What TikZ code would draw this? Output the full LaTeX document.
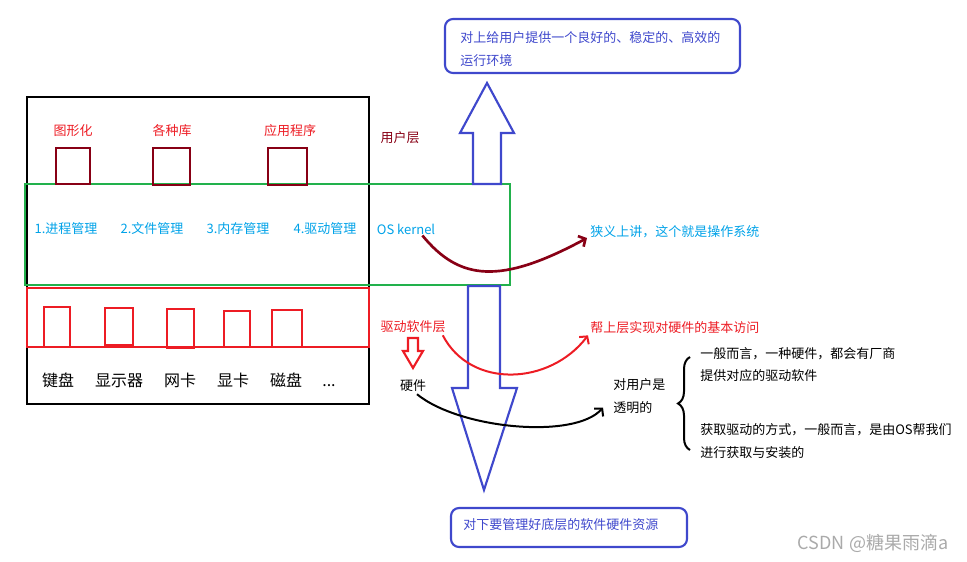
\documentclass[tikz,border=0pt]{standalone}
\usepackage{fontspec}
\setmainfont{Noto Sans CJK SC}
\usetikzlibrary{arrows.meta,calc,decorations.pathreplacing}

\definecolor{osgreen}{RGB}{34,177,76}
\definecolor{osred}{RGB}{237,28,36}
\definecolor{osdarkred}{RGB}{136,0,21}
\definecolor{osblue}{RGB}{63,72,204}
\definecolor{oscyan}{RGB}{0,162,232}
\definecolor{wmgray}{RGB}{170,170,170}

\begin{document}
\begin{tikzpicture}[x=0.75pt,y=-0.75pt,
    txt/.style={inner sep=0pt,font=\fontsize{9.75}{17.25}\selectfont,align=left},
    hw/.style={inner sep=0pt,anchor=base,font=\fontsize{12}{14}\selectfont},
    bubble/.style={draw=osblue,line width=1.6pt,rounded corners=6pt,inner sep=0pt},
    bigarrow/.style={draw=osblue,line width=1.6pt,line join=miter},
    barb/.style={-{Straight Barb[length=4pt,width=9pt]}}]
    \useasboundingbox (0,0) rectangle (967,561);

    % layers
    \draw[line width=2pt] (27,97) rectangle (369,404);
    \draw[osred,line width=1.5pt] (27,288) rectangle (369,347);
    \draw[osgreen,line width=1.6pt] (25,184) rectangle (510,285);

    % user programs
    \foreach \a/\b/\c/\d in {56/148/90/184,153/148/190/185,268/148/307/185} {
      \draw[osdarkred,line width=2pt] (\a,\b) rectangle (\c,\d);
    }
    \node[txt,text=osred] (gfx) at (73,131) {图形化};
    \node[txt,text=osred] (libs) at (172,131) {各种库};
    \node[txt,text=osred] (apps) at (290,131) {应用程序};
    \node[txt,text=osdarkred] (userlayer) at (400,138) {用户层};

    % kernel
    \node[txt,text=oscyan] (proc) at (66,229) {1.进程管理};
    \node[txt,text=oscyan] (file) at (152,229) {2.文件管理};
    \node[txt,text=oscyan] (mem) at (238,229) {3.内存管理};
    \node[txt,text=oscyan] (drvmgr) at (325,229) {4.驱动管理};
    \node[txt,text=oscyan] (oskernel) at (406,229) {OS kernel};

    % drivers
    \foreach \a/\b/\c/\d in {44/307/70/347,105/308/133/345,167/309/194/348,224/311/250/347,272/310/302/347} {
      \draw[osred,line width=1.6pt] (\a,\b) rectangle (\c,\d);
    }
    \node[txt,text=osred] (drvlayer) at (413,327) {驱动软件层};
    \draw[osred,line width=1.6pt,line join=miter]
    (408,338) -- (408,351) -- (403,351) -- (413,368) -- (423,351) -- (418,351) -- (418,338) -- cycle;

    % hardware
    \node[hw] (kbd) at (58,386) {键盘};
    \node[hw] (screen) at (119,386) {显示器};
    \node[hw] (nic) at (180,386) {网卡};
    \node[hw] (gpu) at (233,386) {显卡};
    \node[hw] (disk) at (286,386) {磁盘};
    \node[hw] (more) at (329,386) {...};
    \node[txt] (hwlabel) at (413,386) {硬件};

    % up and down
    \draw[bigarrow] (473,184) -- (473,133) -- (460,133) -- (487,83) -- (514,133) -- (501,133) -- (501,184) -- cycle;
    \draw[bigarrow] (468,286) -- (468,388) -- (452,388) -- (484,490) -- (517,388) -- (500,388) -- (500,286) -- cycle;

    \node[bubble,minimum width=221.25pt,minimum height=40.5pt] (upbox) at (592.5,46) {};
    \node[txt,text=osblue,anchor=west] (uptext) at (460,49.5) {对上给用户提供一个良好的、稳定的、高效的\\运行环境};
    \node[bubble,minimum width=177pt,minimum height=29.25pt] (downbox) at (569,527.5) {};
    \node[txt,text=osblue,anchor=west] (downtext) at (463,525) {对下要管理好底层的软件硬件资源};

    % notes
    \node[txt,text=oscyan,anchor=west] (narrow) at (590,232) {狭义上讲，这个就是操作系统};
    \node[txt,text=osred,anchor=west] (helpup) at (590,328) {帮上层实现对硬件的基本访问};
    \node[txt,anchor=west] (transp) at (613,396.5) {对用户是\\透明的};
    \node[txt,anchor=west,font=\fontsize{9.75}{16.5}\selectfont] (vendor) at (700,365) {一般而言，一种硬件，都会有厂商\\提供对应的驱动软件};
    \node[txt,anchor=west,font=\fontsize{9.75}{17.25}\selectfont] (install) at (700,441.5) {获取驱动的方式，一般而言，是由OS帮我们\\进行获取与安装的};
    \draw[line width=1.5pt,decorate,decoration={brace,amplitude=9pt}] (690,450) -- (690,357);

    \draw[barb,osdarkred,line width=2pt] ($(oskernel.south east)+(-13,1)$)
    .. controls +(37,45) and +(-87,47) .. ($(narrow.west)+(-3,6)$);
    \draw[barb,osred,line width=1.5pt] ($(drvlayer.south east)+(-3,2)$)
    .. controls +(28,54) and +(-38,50) .. ($(helpup.south west)+(-2,1)$);
    \draw[barb,line width=1.5pt] ($(hwlabel.south)+(4,2)$)
    .. controls +(43,35) and +(-28,32) .. ($(transp.west)+(-10,11)$);

    \node[inner sep=0pt,text=wmgray,font=\fontsize{13.5}{16}\selectfont] (mark) at (873,543) {CSDN @糖果雨滴a};
\end{tikzpicture}
\end{document}
